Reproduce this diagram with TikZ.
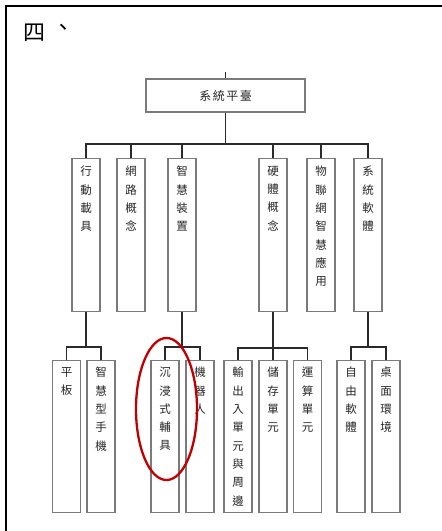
\documentclass[tikz,border=0pt]{standalone}
\usepackage{fontspec}
\newfontfamily\cjk{Noto Sans CJK TC}
\definecolor{boxgray}{HTML}{7A7A7A}
\definecolor{linecol}{HTML}{2A2A2A}
\definecolor{circred}{HTML}{C00000}
\begin{document}
\begin{tikzpicture}[x=1pt,y=-1pt,
  box/.style={draw=boxgray, line width=1.1pt, inner sep=0pt, minimum width=28pt, minimum height=153pt, anchor=north},
  rootbox/.style={draw=boxgray, line width=1.1pt, inner sep=0pt, minimum width=159pt, minimum height=33pt, font=\cjk\fontsize{12}{12}\selectfont, text=black!85},
  vt/.style={font=\cjk\fontsize{11.5}{18.3}\selectfont, align=center, anchor=north, inner sep=0pt, text=black!85},
  conn/.style={draw=linecol, line width=1.3pt},
  frame/.style={draw=black, line width=2pt}]
\useasboundingbox (0,0) rectangle (442,531);
% outer frame
\draw[frame] (6,531) -- (6,6) -- (442,6);
% title
\node[font=\cjk\fontsize{22}{22}\selectfont, anchor=west, inner sep=0pt] (title) at (23,33) {四\hspace{7pt}\raisebox{5pt}{、}};
% root
\node[rootbox] (root) at (225.5,95.5) {系\hspace{1.5pt}統\hspace{1.5pt}平\hspace{1.5pt}臺};
\coordinate (rtop) at (225.5,72);
\coordinate (bus) at (225.5,144);
% level 2
\node[box] (b1) at (86,158) {};
\node[box] (b2) at (131,158) {};
\node[box] (b3) at (182,158) {};
\node[box] (b4) at (273,158) {};
\node[box] (b5) at (321,158) {};
\node[box] (b6) at (368,158) {};
\node[vt] (t1) at ([yshift=-8pt]b1.north) {行\\動\\載\\具};
\node[vt] (t2) at ([yshift=-8pt]b2.north) {網\\路\\概\\念};
\node[vt] (t3) at ([yshift=-8pt]b3.north) {智\\慧\\裝\\置};
\node[vt] (t4) at ([yshift=-8pt]b4.north) {硬\\體\\概\\念};
\node[vt] (t5) at ([yshift=-8pt]b5.north) {物\\聯\\網\\智\\慧\\應\\用};
\node[vt] (t6) at ([yshift=-8pt]b6.north) {系\\統\\軟\\體};
% level 3
\node[box, minimum height=152pt] (c1) at (66.5,360) {};
\node[box, minimum height=152pt] (c2) at (101,360) {};
\node[box, minimum height=152pt] (c3) at (165,360) {};
\node[box, minimum height=152pt] (c4) at (200,360) {};
\node[box, minimum height=152pt] (c5) at (238,360) {};
\node[box, minimum height=152pt] (c6) at (273,360) {};
\node[box, minimum height=152pt] (c7) at (307.5,360) {};
\node[box, minimum height=152pt] (c8) at (351,360) {};
\node[box, minimum height=152pt] (c9) at (386,360) {};
\node[vt] (s1) at ([yshift=-7pt]c1.north) {平\\板};
\node[vt] (s2) at ([yshift=-7pt]c2.north) {智\\慧\\型\\手\\機};
\node[vt] (s3) at ([yshift=-7pt]c3.north) {沉\\浸\\式\\輔\\具};
\node[vt] (s4) at ([yshift=-7pt]c4.north) {機\\器\\人};
\node[vt] (s5) at ([yshift=-7pt]c5.north) {輸\\出\\入\\單\\元\\與\\周\\邊};
\node[vt] (s6) at ([yshift=-7pt]c6.north) {儲\\存\\單\\元};
\node[vt] (s7) at ([yshift=-7pt]c7.north) {運\\算\\單\\元};
\node[vt] (s8) at ([yshift=-7pt]c8.north) {自\\由\\軟\\體};
\node[vt] (s9) at ([yshift=-7pt]c9.north) {桌\\面\\環\\境};
% connectors top
\draw[conn] (rtop) -- (root.north);
\draw[conn] (root.south) -- (bus);
\draw[conn] (b1.north) |- (bus) -| (b6.north);
\draw[conn] (b2.north) -- (b2.north |- bus);
\draw[conn] (b3.north) -- (b3.north |- bus);
\draw[conn] (b4.north) -- (b4.north |- bus);
\draw[conn] (b5.north) -- (b5.north |- bus);
% junctions
\coordinate (j1) at (86,347);
\coordinate (j3) at (182,347);
\coordinate (j4) at (273,348);
\coordinate (j6) at (368,347);
\draw[conn] (b1.south) -- (j1);
\draw[conn] (c1.north) |- (j1) -| (c2.north);
\draw[conn] (b3.south) -- (j3);
\draw[conn] (c3.north) |- (j3) -| (c4.north);
\draw[conn] (b4.south) -- (j4);
\draw[conn] (c5.north) |- (j4) -| (c7.north);
\draw[conn] (c6.north) -- (j4);
\draw[conn] (b6.south) -- (j6);
\draw[conn] (c8.north) |- (j6) -| (c9.north);
% red ellipse
\draw[circred, line width=2.3pt] (166.5,409) ellipse [x radius=30.5pt, y radius=71pt];
\end{tikzpicture}
\end{document}
